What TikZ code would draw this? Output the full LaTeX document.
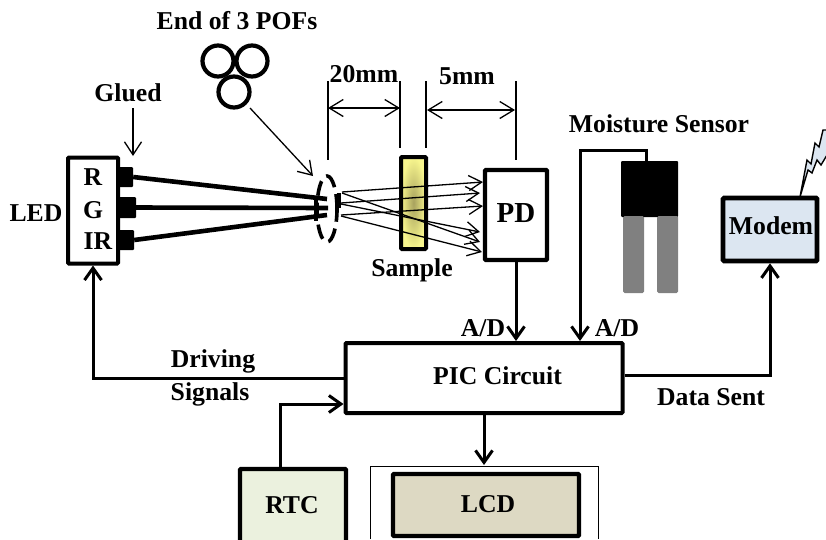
\documentclass[tikz,border=0pt]{standalone}
\usepackage{fontspec}
\setmainfont{Liberation Serif}
\usetikzlibrary{arrows.meta,calc,shapes.geometric}
\definecolor{modemc}{HTML}{DCE6F1}
\definecolor{rtcc}{HTML}{EBF1DE}
\definecolor{lcdc}{HTML}{DDD9C3}
\definecolor{boltc}{HTML}{DCE6F1}
\definecolor{samplein}{HTML}{A8A25E}
\definecolor{sampleout}{HTML}{F8F68E}
\tikzset{
  x=1pt,y=-1pt,
  lab/.style={font=\bfseries\fontsize{#1}{#1}\selectfont,inner sep=0pt},
  lab/.default=25.7,
  box/.style={draw=black,line width=4pt,rounded corners=1pt,inner sep=0pt},
  conn/.style={draw=black,line width=3pt,-{Straight Barb[length=12pt,width=17pt,line width=3pt]}},
  thin arrow/.style={draw=black,line width=1.3pt,-{Straight Barb[length=13pt,width=17pt,line width=1.3pt]}},
  dim arrow/.style={draw=black,line width=1.3pt,{Straight Barb[length=14pt,width=17pt,line width=1.3pt]}-{Straight Barb[length=14pt,width=17pt,line width=1.3pt]}},
  ray/.style={draw=black,line width=1.3pt,-{Straight Barb[length=13pt,width=15pt,line width=1.3pt]}},
  dimline/.style={draw=black,line width=1.3pt},
  fibre/.style={draw=black,line width=4.6pt},
  stub/.style={fill=black,rounded corners=1pt,inner sep=0pt},
  pof/.style={draw=black,line width=4.2pt,circle,minimum size=31pt,inner sep=0pt},
}
\begin{document}
\begin{tikzpicture}
\useasboundingbox (0,0) rectangle (826,539);
\clip (0,0) rectangle (826,539);
% LED
\node[box,fill=white,minimum width=50pt,minimum height=106pt] (led) at (93,210.5) {};
\node[lab] (ledr) at (93,177) {R};
\node[lab] (ledg) at (93,210) {G};
\node[lab] (ledir) at (98,241) {IR};
\node[lab] (ledlab) at (36,213) {LED};
\node[stub,minimum width=14pt,minimum height=20pt] (sr) at (126,177) {};
\node[stub,minimum width=18pt,minimum height=21pt] (sg) at (127,207.5) {};
\node[stub,minimum width=16pt,minimum height=20pt] (sir) at (126,240) {};
% fibres
\coordinate (fr) at (327,199);
\coordinate (fg) at (328,208);
\coordinate (fir) at (327,215);
\draw[fibre] (sr.east) -- (fr);
\draw[fibre] (sg.east) -- (fg);
\draw[fibre] (sir.east) -- (fir);
\node[fill=black,minimum width=4pt,minimum height=25pt,inner sep=0pt] (bar) at (316,208) {};
% bundle
\node[draw=black,line width=3.6pt,dash pattern=on 15pt off 7pt,ellipse,minimum width=20pt,minimum height=66pt,inner sep=0pt] (bundle) at (327,209) {};
\node[fill=black,minimum width=3.5pt,minimum height=15pt,inner sep=0pt] (e1) at (339,200) {};
% Glued
\node[lab] (glued) at (128,93) {Glued};
\coordinate (gluedfrom) at (133,108);
\coordinate (gluedto) at (133,156);
\draw[thin arrow] (gluedfrom) -- (gluedto);
% POF
\node[lab] (pofs) at (237,21) {End of 3 POFs};
\node[pof] (p1) at (218,61) {};
\node[pof] (p2) at (252,61) {};
\node[pof] (p3) at (234,92) {};
\coordinate (pa) at (250,108);
\coordinate (pb) at (313,176);
\draw[thin arrow] (pa) -- (pb);
% Sample
\node[draw=black,line width=4pt,rounded corners=1pt,minimum width=25pt,minimum height=92pt,inner sep=0pt,shade,shading=radial,inner color=samplein,outer color=sampleout] (sample) at (413.5,203) {};
\node[lab] (samplelab) at (412,270) {Sample};
% PD
\node[box,line width=4.4pt,fill=white,minimum width=62pt,minimum height=90pt] (pd) at (516,215) {};
\node[lab=29] (pdlab) at (516,213) {PD};
% rays
\draw[ray] (342,192) -- (483,182);
\draw[ray] (342,193) -- (480,242);
\draw[ray] (341,203) -- (480,193);
\draw[ray] (341,204) -- (480,232);
\draw[ray] (341,216) -- (482,252);
\draw[ray] (341,215) -- (483,206);
% dims
\coordinate (d1a) at (328,81); \coordinate (d1b) at (328,160);
\coordinate (d2a) at (400,81); \coordinate (d2b) at (400,148);
\coordinate (d3a) at (426,81); \coordinate (d3b) at (426,148);
\coordinate (d4a) at (516,81); \coordinate (d4b) at (516,160);
\draw[dimline] (d1a) -- (d1b);
\draw[dimline] (d2a) -- (d2b);
\draw[dimline] (d3a) -- (d3b);
\draw[dimline] (d4a) -- (d4b);
\draw[dim arrow] (328,108) -- (400,108);
\draw[dim arrow] (427,110) -- (515,110);
\node[lab] (mm20) at (364,74) {20mm};
\node[lab] (mm5) at (467,76) {5mm};
% moisture
\node[lab] (mslab) at (659,124) {Moisture Sensor};
\node[fill=black,rounded corners=1pt,minimum width=57pt,minimum height=56pt,inner sep=0pt] (ms) at (649.5,189) {};
\fill[black!50,rounded corners=1.5pt] (623,216) rectangle (644,293);
\fill[black!50,rounded corners=1.5pt] (657,216) rectangle (678,293);
% modem
\node[box,line width=4.6pt,fill=modemc,minimum width=94pt,minimum height=63pt] (modem) at (770,229.5) {};
\node[lab] (modemlab) at (771,226) {Modem};
% PIC
\node[box,fill=white,minimum width=277pt,minimum height=70pt] (pic) at (484,378) {};
\node[lab] (piclab) at (497.5,376) {PIC Circuit};
% RTC / LCD
\node[box,line width=4.4pt,fill=rtcc,minimum width=106pt,minimum height=90pt] (rtc) at (293,514) {};
\node[lab] (rtclab) at (292,505) {RTC};
\draw[draw=black,line width=0.8pt] (370.5,539) |- (598.5,466) -- (598.5,539);
\node[box,line width=4.4pt,fill=lcdc,minimum width=186pt,minimum height=62pt] (lcd) at (486,505) {};
\node[lab] (lcdlab) at (488,504) {LCD};
% connectors
\draw[conn] (pd.south) -- (pd.south |- pic.north);
\draw[conn] (pic.west |- 0,378) -| (led.south);
\draw[conn] (rtc.north -| 280,0) |- (pic.west |- 0,404);
\draw[conn] (pic.south -| 484,0) -- (484,465);
\draw[conn] (pic.east |- 0,375) -| (modem.south);
\draw[conn] (ms.north -| 646,0) |- (580,150) -- (pic.north -| 580,0);
% labels
\node[lab] (ad1) at (483,328) {A/D};
\node[lab] (ad2) at (617,328) {A/D};
\node[lab] (driv) at (213,361) {Driving};
\node[lab] (sig) at (210,394) {Signals};
\node[lab] (sent) at (711,397) {Data Sent};
% lightning
\draw[draw=black,line width=1.4pt,fill=boltc]
 (800,197) -- (807,160) -- (811,164) -- (815,143) -- (819,147) -- (823,130) -- (830,130) -- (830,150) -- (821,165) -- (817,160) -- (812,173) -- (808,170) -- cycle;
\end{tikzpicture}
\end{document}
